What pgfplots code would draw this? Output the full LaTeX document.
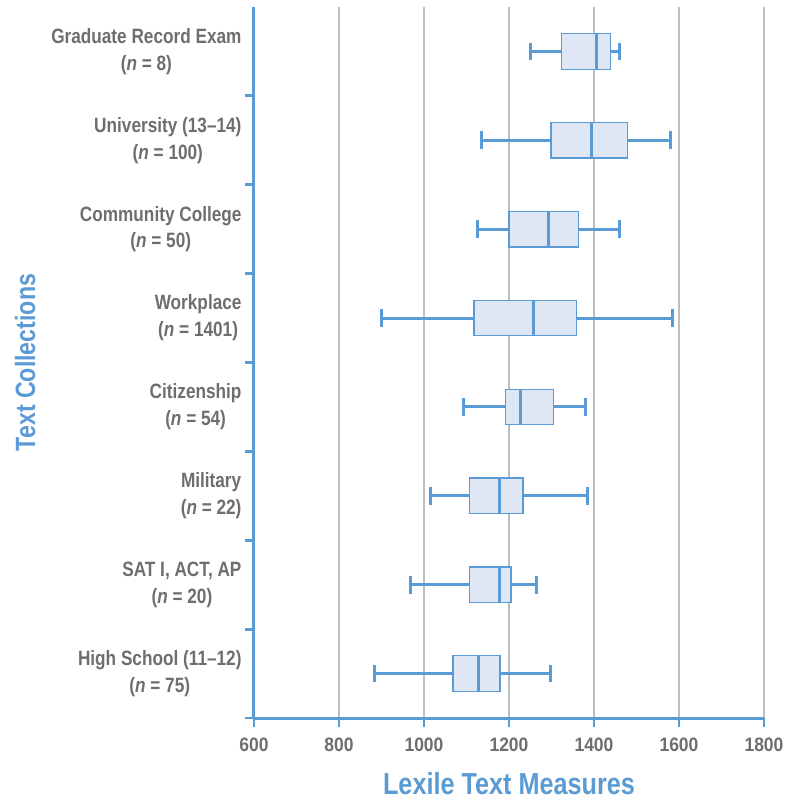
\documentclass[border=0pt]{standalone}
\usepackage{fontspec}
\setmainfont{Liberation Sans}[FakeStretch=0.83]
\newfontfamily\tickfont{Liberation Sans}[FakeStretch=0.9]
\usepackage{pgfplots}
\pgfplotsset{compat=1.18}
\usepgfplotslibrary{statistics}
\definecolor{axblue}{HTML}{5B9BD5}
\definecolor{boxfill}{HTML}{DFE7F5}
\definecolor{labgray}{HTML}{6D6E71}
\definecolor{gridgray}{HTML}{BEBEBE}
\begin{document}
\begin{tikzpicture}
\begin{axis}[
  scale only axis, width=510bp, height=711bp,
  xmin=600, xmax=1800, ymin=-0.5, ymax=7.5,
  axis x line=bottom, axis y line=left,
  axis line style={-, draw=axblue, line width=3bp},
  xtick={600,800,...,1800},
  ytick={-0.5,0.5,...,6.5},
  yticklabels={{High School (11--12)\\(\textit{n} = 75)},
               {SAT I, ACT, AP\\(\textit{n} = 20)},
               {Military\\(\textit{n} = 22)},
               {Citizenship\\(\textit{n} = 54)},
               {Workplace\\(\textit{n} = 1401)},
               {Community College\\(\textit{n} = 50)},
               {University (13--14)\\(\textit{n} = 100)},
               {Graduate Record Exam\\(\textit{n} = 8)}},
  tick align=outside,
  major tick length=9bp,
  tick style={draw=axblue, line width=2.8bp},
  xmajorgrids, grid style={draw=gridgray, line width=1.2bp},
  /pgf/number format/assume math mode=true,
  /pgf/number format/1000 sep={},
  xticklabel style={font=\tickfont\fontsize{19.5}{20}\selectfont\bfseries, text=labgray, yshift=-7bp},
  yticklabel style={font=\fontsize{20.8}{27}\selectfont\bfseries, text=labgray, align=center, yshift=44.44bp, xshift=0bp},
  xlabel={Lexile Text Measures}, ylabel={Text Collections},
  xlabel style={font=\fontsize{30.5}{30}\selectfont\bfseries, text=axblue, yshift=-14bp},
  ylabel style={font=\fontsize{28}{28}\selectfont\bfseries, text=axblue, yshift=9bp},
  boxplot/draw direction=x,
  boxplot/box extend=0.4,
  boxplot/whisker extend=0.2,
  boxplot/every box/.style={draw=axblue, fill=boxfill, line width=1.3bp},
  boxplot/every median/.style={draw=axblue, line width=3bp},
  boxplot/every whisker/.style={draw=axblue, line width=3bp},
]
% Graduate Record Exam
\addplot[boxplot prepared={lower whisker=1250, lower quartile=1324, median=1407, upper quartile=1438, upper whisker=1460, draw position=7}] coordinates {};
% University
\addplot[boxplot prepared={lower whisker=1136, lower quartile=1299, median=1394, upper quartile=1478, upper whisker=1580, draw position=6}] coordinates {};
% Community College
\addplot[boxplot prepared={lower whisker=1126, lower quartile=1200, median=1293, upper quartile=1364, upper whisker=1460, draw position=5}] coordinates {};
% Workplace
\addplot[boxplot prepared={lower whisker=900, lower quartile=1118, median=1258, upper quartile=1358, upper whisker=1584, draw position=4}] coordinates {};
% Citizenship
\addplot[boxplot prepared={lower whisker=1093, lower quartile=1191, median=1228, upper quartile=1304, upper whisker=1380, draw position=3}] coordinates {};
% Military
\addplot[boxplot prepared={lower whisker=1016, lower quartile=1107, median=1178, upper quartile=1233, upper whisker=1385, draw position=2}] coordinates {};
% SAT I, ACT, AP
\addplot[boxplot prepared={lower whisker=968, lower quartile=1107, median=1178, upper quartile=1205, upper whisker=1265, draw position=1}] coordinates {};
% High School
\addplot[boxplot prepared={lower whisker=884, lower quartile=1068, median=1128, upper quartile=1179, upper whisker=1297, draw position=0}] coordinates {};
\end{axis}
\pgfresetboundingbox
\path[use as bounding box] (current axis.south west) ++(-254bp,-82bp) rectangle ++(785bp,800bp);
\end{tikzpicture}
\end{document}
